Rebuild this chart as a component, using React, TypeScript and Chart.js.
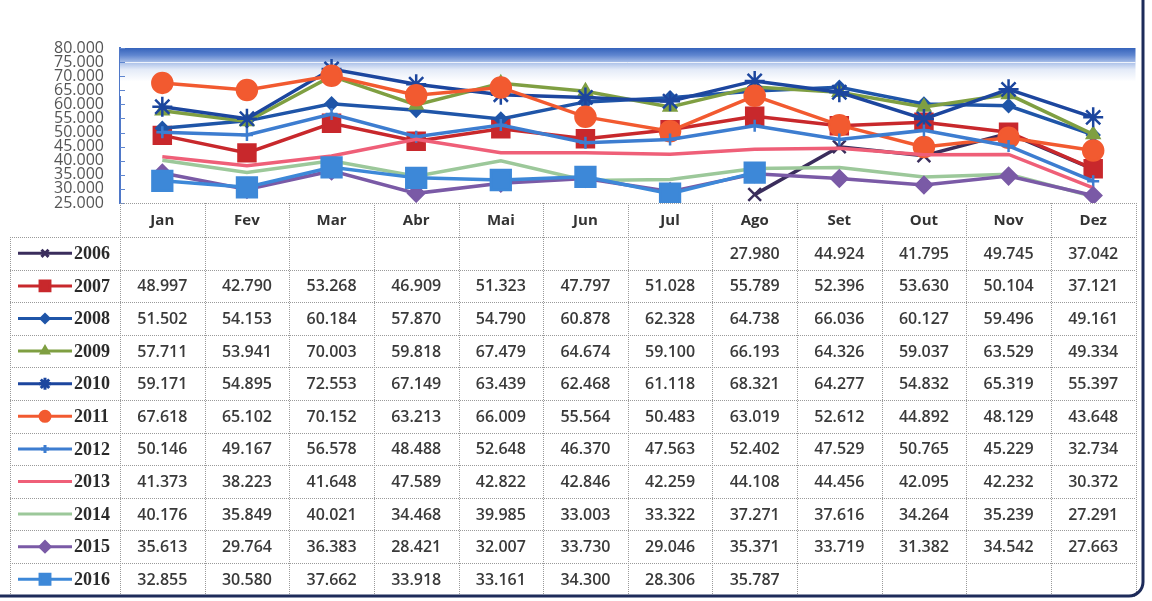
import { useEffect, useRef } from 'react';
import { Chart, registerables } from 'chart.js';
import { drawPoint } from 'chart.js/helpers';

Chart.register(...registerables);

// ---------- data ----------
const months = ['Jan', 'Fev', 'Mar', 'Abr', 'Mai', 'Jun', 'Jul', 'Ago', 'Set', 'Out', 'Nov', 'Dez'];
const years = ['2006', '2007', '2008', '2009', '2010', '2011', '2012', '2013', '2014', '2015', '2016'];

const s2006 = [null, null, null, null, null, null, null, 27980, 44924, 41795, 49745, 37042];
const s2007 = [48997, 42790, 53268, 46909, 51323, 47797, 51028, 55789, 52396, 53630, 50104, 37121];
const s2008 = [51502, 54153, 60184, 57870, 54790, 60878, 62328, 64738, 66036, 60127, 59496, 49161];
const s2009 = [57711, 53941, 70003, 59818, 67479, 64674, 59100, 66193, 64326, 59037, 63529, 49334];
const s2010 = [59171, 54895, 72553, 67149, 63439, 62468, 61118, 68321, 64277, 54832, 65319, 55397];
const s2011 = [67618, 65102, 70152, 63213, 66009, 55564, 50483, 63019, 52612, 44892, 48129, 43648];
const s2012 = [50146, 49167, 56578, 48488, 52648, 46370, 47563, 52402, 47529, 50765, 45229, 32734];
const s2013 = [41373, 38223, 41648, 47589, 42822, 42846, 42259, 44108, 44456, 42095, 42232, 30372];
const s2014 = [40176, 35849, 40021, 34468, 39985, 33003, 33322, 37271, 37616, 34264, 35239, 27291];
const s2015 = [35613, 29764, 36383, 28421, 32007, 33730, 29046, 35371, 33719, 31382, 34542, 27663];
const s2016 = [32855, 30580, 37662, 33918, 33161, 34300, 28306, 35787, null, null, null, null];

const series = [s2006, s2007, s2008, s2009, s2010, s2011, s2012, s2013, s2014, s2015, s2016];

const yMin = 25000;
const yMax = 80000;
const yStep = 5000;

// ---------- styles ----------
const colors = ['#3a2d5c', '#c8282c', '#1f55a8', '#7f9f42', '#1c469e', '#f25a30', '#3d7dd0', '#ef5f78', '#9cc89a', '#7a5aa6', '#3d88d8'];
const markers: any[] = ['crossRot', 'rect', 'rectRot', 'triangle', 'star', 'circle', 'cross', false, false, 'rectRot', 'rect'];
const markerRadius = [9, 12, 6, 7, 10, 10, 6, 0, 0, 8, 14];
const legendRadius = [5, 7, 4, 4, 6, 5, 4, 0, 0, 5, 7];

const fmt = (v: number | null) => {
  if (v === null || v === undefined) return '';
  const s = Math.round(v).toString();
  return s.length > 3 ? s.slice(0, -3) + '.' + s.slice(-3) : s;
};

const HEADER_H = 34;
const ROW_H = 32.6;

const excelPlugin = {
  id: 'excelLook',
  beforeDatasetsDraw(chart: any) {
    const { ctx, chartArea: a } = chart;
    ctx.save();
    const g = ctx.createLinearGradient(0, a.top, 0, a.top + 48);
    g.addColorStop(0, '#3563bb');
    g.addColorStop(0.15, '#5f86d0');
    g.addColorStop(0.3, '#a9bfe8');
    g.addColorStop(0.45, '#e4ebf8');
    g.addColorStop(0.7, '#ffffff');
    ctx.fillStyle = g;
    ctx.fillRect(a.left, a.top, a.right - a.left, 48);
    ctx.strokeStyle = 'rgba(255,255,255,0.8)';
    ctx.lineWidth = 1;
    ctx.beginPath();
    ctx.moveTo(a.left, a.top + 14.5);
    ctx.lineTo(a.right, a.top + 14.5);
    ctx.stroke();
    const y = chart.scales.y;
    ctx.strokeStyle = '#5f86d0';
    ctx.lineWidth = 1;
    for (let v = yMin; v <= yMax; v += yStep) {
      const py = Math.round(y.getPixelForValue(v)) + 0.5;
      ctx.beginPath();
      ctx.moveTo(a.left, py);
      ctx.lineTo(a.left + 5, py);
      ctx.stroke();
    }
    ctx.restore();
  },
  afterDraw(chart: any) {
    const { ctx, chartArea: a } = chart;
    const x = chart.scales.x;
    const colW = (a.right - a.left) / months.length;
    const headerTop = a.bottom;
    const rowsTop = headerTop + HEADER_H;
    const tableLeft = 10;
    const tableBottom = rowsTop + ROW_H * years.length;

    ctx.save();
    ctx.strokeStyle = '#9a9a9a';
    ctx.lineWidth = 1;
    ctx.setLineDash([1, 1]);
    const hline = (y0: number, x0: number, x1: number) => {
      ctx.beginPath();
      ctx.moveTo(x0, Math.round(y0) + 0.5);
      ctx.lineTo(x1, Math.round(y0) + 0.5);
      ctx.stroke();
    };
    const vline = (x0: number, y0: number, y1: number) => {
      ctx.beginPath();
      ctx.moveTo(Math.round(x0) + 0.5, y0);
      ctx.lineTo(Math.round(x0) + 0.5, y1);
      ctx.stroke();
    };
    hline(headerTop, a.left, a.right);
    for (let r = 0; r <= years.length; r++) {
      hline(rowsTop + r * ROW_H, tableLeft, a.right);
    }
    vline(tableLeft, rowsTop, tableBottom);
    for (let c = 0; c <= months.length; c++) {
      vline(a.left + c * colW, headerTop, tableBottom);
    }
    ctx.setLineDash([]);

    ctx.fillStyle = '#333333';
    ctx.font = "bold 15px 'Open Sans', sans-serif";
    ctx.textAlign = 'center';
    ctx.textBaseline = 'middle';
    months.forEach((m, i) => {
      ctx.fillText(m, x.getPixelForValue(i), headerTop + HEADER_H / 2 + 1);
    });

    ctx.font = "600 16px 'Open Sans', sans-serif";
    ctx.fillStyle = '#3a3a3a';
    series.forEach((row, r) => {
      const cy = rowsTop + r * ROW_H + ROW_H / 2 + 1;
      row.forEach((v, i) => {
        if (v === null) return;
        ctx.fillText(fmt(v), x.getPixelForValue(i), cy);
      });
    });

    years.forEach((yr, r) => {
      const cy = rowsTop + r * ROW_H + ROW_H / 2;
      const x0 = 18;
      const x1 = 72;
      ctx.strokeStyle = colors[r];
      ctx.fillStyle = colors[r];
      ctx.lineWidth = 3;
      ctx.beginPath();
      ctx.moveTo(x0, cy);
      ctx.lineTo(x1, cy);
      ctx.stroke();
      if (markers[r]) {
        drawPoint(ctx, { pointStyle: markers[r], radius: legendRadius[r], rotation: 0, borderWidth: 1.5 } as any, (x0 + x1) / 2, cy);
      }
      ctx.fillStyle = '#2a2a2a';
      ctx.textAlign = 'left';
      ctx.font = "bold 18px 'Liberation Serif', serif";
      ctx.fillText(yr, x1 + 2, cy + 1);
    });

    ctx.strokeStyle = '#1d2b5a';
    ctx.lineWidth = 3;
    ctx.beginPath();
    ctx.moveTo(1143, 0);
    ctx.lineTo(1143, 582);
    ctx.arcTo(1143, 596, 1129, 596, 14);
    ctx.lineTo(0, 596);
    ctx.stroke();
    ctx.restore();
  },
};

export default function App() {
  const ref = useRef<HTMLCanvasElement | null>(null);

  useEffect(() => {
    const canvas = ref.current;
    if (!canvas) return;
    const datasets = series.map((d, i) => ({
      label: years[i],
      data: d,
      borderColor: colors[i],
      backgroundColor: colors[i],
      pointBackgroundColor: colors[i],
      pointBorderColor: colors[i],
      pointStyle: markers[i] || 'circle',
      pointRadius: markers[i] ? markerRadius[i] : 0,
      pointBorderWidth: 2.5,
      borderWidth: 3.5,
      tension: 0,
      spanGaps: false,
      order: series.length - i,
    }));
    const chart = new Chart(canvas, {
      type: 'line',
      data: { labels: months, datasets },
      plugins: [excelPlugin],
      options: {
        responsive: false,
        animation: false,
        layout: { padding: { left: 8, top: 48, right: 14, bottom: 601 - 203 } },
        plugins: { legend: { display: false }, tooltip: { enabled: false }, title: { display: false } },
        scales: {
          x: {
            type: 'category',
            offset: true,
            display: false,
          },
          y: {
            min: yMin,
            max: yMax,
            afterFit: (s: any) => {
              s.width = 112;
            },
            ticks: {
              stepSize: yStep,
              autoSkip: false,
              padding: 8,
              color: '#555555',
              font: { family: "'Open Sans', sans-serif", size: 16 },
              callback: (v: any) => fmt(Number(v)),
            },
            grid: { display: false },
            border: { display: true, color: '#4f78c8', width: 2 },
          },
        },
      },
    });
    return () => chart.destroy();
  }, []);

  return (
    <div style={{ position: 'fixed', left: 0, top: 0, width: 1152, height: 601, background: '#ffffff' }}>
      <canvas ref={ref} width={1152} height={601} />
    </div>
  );
}
